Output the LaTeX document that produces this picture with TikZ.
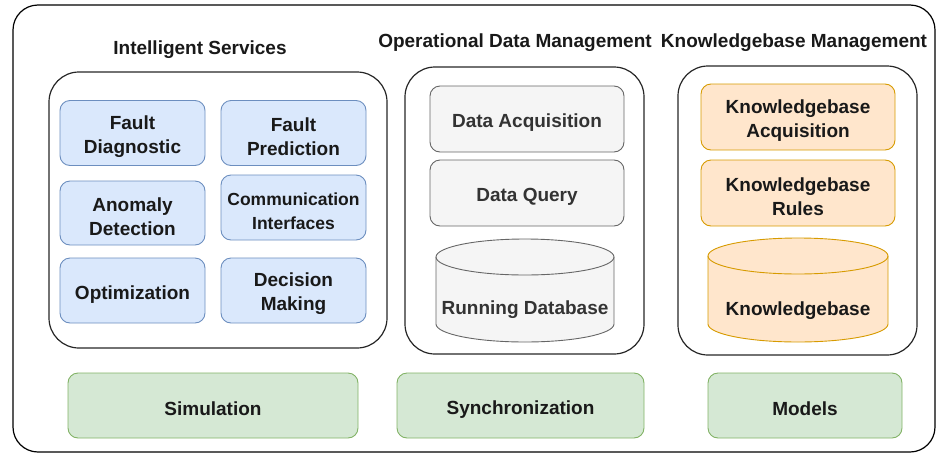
\documentclass[tikz,border=0pt]{standalone}
\usepackage{fontspec}
\setmainfont{Liberation Sans}
\definecolor{blfill}{HTML}{DAE8FC}
\definecolor{blline}{HTML}{6C8EBF}
\definecolor{grfill}{HTML}{F5F5F5}
\definecolor{grline}{HTML}{666666}
\definecolor{grtext}{HTML}{333333}
\definecolor{orfill}{HTML}{FFE6CC}
\definecolor{orline}{HTML}{D79B00}
\definecolor{gnfill}{HTML}{D5E8D4}
\definecolor{gnline}{HTML}{82B366}
\newcommand{\up}{\rule{0pt}{21pt}}
\tikzset{every node/.style={font=\bfseries\fontsize{19}{24}\selectfont,align=center,inner sep=0pt,text=black!90}}
\tikzset{c/.style={rectangle,draw=black!85,line width=1.2pt,rounded corners=30pt}}
\tikzset{r/.style={rectangle,rounded corners=10pt,line width=0.9pt}}
\tikzset{b/.style={r,draw=blline,fill=blfill,minimum width=145pt,minimum height=65pt}}
\tikzset{g/.style={r,draw=grline,fill=grfill,minimum width=194pt,minimum height=66pt,text=grtext}}
\tikzset{o/.style={r,draw=orline,fill=orfill,minimum width=194pt,minimum height=66pt}}
\tikzset{m/.style={r,draw=gnline,fill=gnfill,minimum height=65pt}}

\begin{document}
\begin{tikzpicture}[x=1pt,y=-1pt]
      \useasboundingbox (0,0) rectangle (937,453);
      \draw[rounded corners=25pt,line width=1.2pt] (13,5) rectangle (935,452);
      % titles
      \node (ist) at (200,50) {Intelligent Services};
      \node (odt) at (515,43) {Operational Data Management};
      \node (kmt) at (794,43) {Knowledgebase Management};
      % containers
      \node[c,minimum width=338pt,minimum height=276pt] (is) at (218,210) {};
      \node[c,minimum width=239pt,minimum height=287pt] (od) at (524.5,210.5) {};
      \node[c,minimum width=239pt,minimum height=289pt] (km) at (797.5,210.5) {};
      % intelligent services
      \node[b] (fd) at (132.5,133) {\up Fault\\Diagnostic};
      \node[b] (fp) at (293.5,133) {\up Fault\\Prediction};
      \node[b,minimum height=64pt] (ad) at (132.5,213) {\up Anomaly\\Detection};
      \node[b,font=\bfseries\fontsize{17.5}{24}\selectfont] (ci) at (293.5,207.5) {\up Communication\\Interfaces};
      \node[b] (op) at (132.5,290.5) {\up Optimization};
      \node[b] (dm) at (293.5,290.5) {\up Decision\\Making};
      % operational data
      \node[g] (da) at (527,119) {\up Data Acquisition};
      \node[g] (dq) at (527,193) {\up Data Query};
      \draw[draw=grline,fill=grfill,line width=0.9pt] (436,257) -- (436,324)
        arc[start angle=180,end angle=360,x radius=89pt,y radius=18pt] -- (614,257)
        arc[start angle=0,end angle=180,x radius=89pt,y radius=18pt] -- cycle;
      \draw[draw=grline,line width=0.9pt] (436,257) arc[start angle=180,end angle=360,x radius=89pt,y radius=18pt];
      \node[text=grtext] (rdb) at (525,310) {Running Database};
      % knowledgebase
      \node[o] (kba) at (798,117) {\up Knowledgebase\\Acquisition};
      \node[o] (kbr) at (798,193) {\up Knowledgebase\\Rules};
      \draw[draw=orline,fill=orfill,line width=0.9pt] (708,256) -- (708,324)
        arc[start angle=180,end angle=360,x radius=90pt,y radius=18pt] -- (888,256)
        arc[start angle=0,end angle=180,x radius=90pt,y radius=18pt] -- cycle;
      \draw[draw=orline,line width=0.9pt] (708,256) arc[start angle=180,end angle=360,x radius=90pt,y radius=18pt];
      \node (kb) at (798,311) {Knowledgebase};
      % bottom row
      \node[m,minimum width=290pt] (sim) at (213,405.5) {\up Simulation};
      \node[m,minimum width=247pt] (syn) at (520.5,405.5) {\up Synchronization};
      \node[m,minimum width=194pt] (mod) at (805,405.5) {\up Models};
    \end{tikzpicture}
\end{document}
